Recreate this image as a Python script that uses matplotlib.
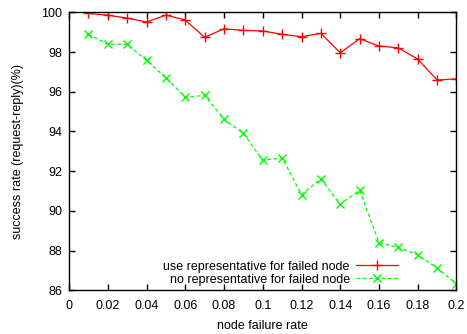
import matplotlib
matplotlib.use("Agg")
import matplotlib.pyplot as plt

plt.rcParams['font.family'] = ['Liberation Sans', 'DejaVu Sans']
plt.rcParams['font.size'] = 9

# node failure rate
rate = [0.01, 0.02, 0.03, 0.04, 0.05, 0.06, 0.07, 0.08, 0.09, 0.10,
        0.11, 0.12, 0.13, 0.14, 0.15, 0.16, 0.17, 0.18, 0.19, 0.20]

# success rate (%) with representative for failed node
use_rep = [99.95, 99.85, 99.71, 99.51, 99.86, 99.61, 98.74, 99.17, 99.09, 99.06,
           98.89, 98.77, 98.94, 97.96, 98.67, 98.30, 98.21, 97.64, 96.59, 96.65]

# success rate (%) without representative
no_rep = [98.89, 98.39, 98.39, 97.58, 96.70, 95.73, 95.81, 94.62, 93.90, 92.55,
          92.67, 90.82, 91.61, 90.33, 91.04, 88.40, 88.16, 87.78, 87.12, 86.33]

xticks = [0, 0.02, 0.04, 0.06, 0.08, 0.1, 0.12, 0.14, 0.16, 0.18, 0.2]
xticklabels = ['0', '0.02', '0.04', '0.06', '0.08', '0.1', '0.12', '0.14', '0.16', '0.18', '0.2']
yticks = [86, 88, 90, 92, 94, 96, 98, 100]

fig = plt.figure(figsize=(4.67, 3.34), dpi=100)
ax = fig.add_axes([0.1478, 0.1308, 0.8297, 0.8324])

ax.plot(rate, use_rep, color='#ff0000', lw=0.9, marker='+', ms=7, mew=1.0,
        label='use representative for failed node')
ax.plot(rate, no_rep, color='#00ff00', lw=0.9, ls=(0, (3, 2)), marker='x', ms=5.5, mew=1.0,
        label='no representative for failed node')

ax.set_xlim(0, 0.2)
ax.set_ylim(86, 100)
ax.set_xticks(xticks)
ax.set_xticklabels(xticklabels)
ax.set_yticks(yticks)
ax.tick_params(direction='in', top=True, right=True, length=4, width=1.0)
ax.tick_params(axis='x', pad=7)
ax.tick_params(axis='y', pad=5)
for s in ax.spines.values():
    s.set_linewidth(1.0)

ax.set_xlabel('node failure rate', labelpad=6)
ax.set_ylabel('success rate (request-reply)(%)', labelpad=12)

ax.legend(loc='lower right', bbox_to_anchor=(0.876, -0.02), frameon=False,
          markerfirst=False, handlelength=3.4, handletextpad=0.5,
          labelspacing=0.1, borderpad=0.3)

fig.savefig('out.png', dpi=100)
